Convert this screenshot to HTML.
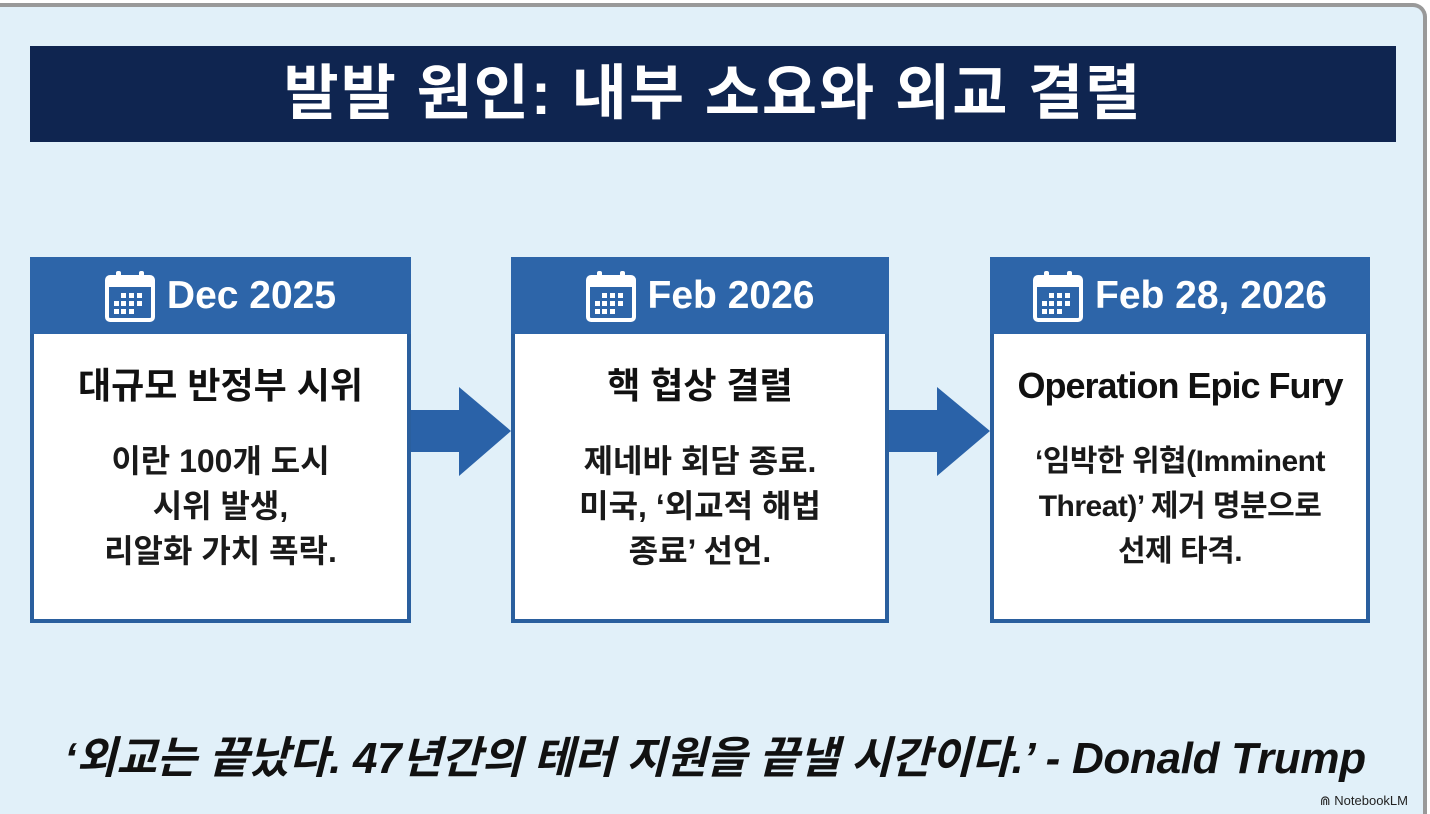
<!DOCTYPE html>
<html><head><meta charset="utf-8"><style>
*{margin:0;padding:0;box-sizing:border-box}
body{width:1430px;height:814px;overflow:hidden;background:#fff;font-family:"Liberation Sans","Noto Sans CJK KR",sans-serif;position:relative}
.frame{position:absolute;left:0;top:3px;width:1427px;height:811px;background:#e1f0f9;border-top:4px solid #999;border-right:4px solid #999;border-top-right-radius:14px}
.title{position:absolute;left:30px;top:46px;width:1366px;height:96px;background:#0f2550;color:#fff;font-size:60px;font-weight:bold;text-align:center;line-height:96px;letter-spacing:2px}
.card{position:absolute;top:257px;height:366px;background:#fff;border:4px solid #2a5f9e}
.hd{height:77px;background:#2d65a9;color:#fff;font-size:39px;font-weight:bold;display:flex;align-items:center;justify-content:center;gap:12px;margin:-4px -4px 0 -4px}
.bd{text-align:center;color:#111}
.h2{font-size:36px;font-weight:bold;margin-top:28px;line-height:48px}
.tx{font-size:32px;font-weight:bold;line-height:45px;margin-top:29px;color:#1a1a1a}
.arrow{position:absolute;top:387px}
.quote{position:absolute;left:0;width:1430px;top:722px;text-align:center;font-size:44px;font-weight:bold;font-style:italic;color:#111;letter-spacing:-0.3px}
.nb{position:absolute;right:22px;top:793px;font-size:13px;color:#222}
</style></head><body>
<div class="frame"></div>
<div class="title">발발 원인: 내부 소요와 외교 결렬</div>

<svg width="0" height="0" style="position:absolute"><defs><symbol id="cal" viewBox="0 0 50 52"><rect x="2" y="7" width="46" height="43" rx="3" fill="none" stroke="#fff" stroke-width="4"/><rect x="2" y="7" width="46" height="10" fill="#fff"/><rect x="11" y="1" width="5" height="11" rx="2" fill="#fff"/><rect x="34" y="1" width="5" height="11" rx="2" fill="#fff"/><g fill="#fff"><rect x="16" y="23" width="5" height="5"/><rect x="24" y="23" width="5" height="5"/><rect x="32" y="23" width="5" height="5"/><rect x="9" y="31" width="5" height="5"/><rect x="16" y="31" width="5" height="5"/><rect x="24" y="31" width="5" height="5"/><rect x="32" y="31" width="5" height="5"/><rect x="9" y="39" width="5" height="5"/><rect x="16" y="39" width="5" height="5"/><rect x="24" y="39" width="5" height="5"/></g></symbol></defs></svg>

<div class="card" style="left:30px;width:381px">
<div class="hd"><svg width="50" height="52"><use href="#cal"/></svg>Dec 2025</div>
<div class="bd"><div class="h2">대규모 반정부 시위</div><div class="tx">이란 100개 도시<br>시위 발생,<br>리알화 가치 폭락.</div></div>
</div>
<div class="card" style="left:511px;width:378px">
<div class="hd"><svg width="50" height="52"><use href="#cal"/></svg>Feb 2026</div>
<div class="bd"><div class="h2">핵 협상 결렬</div><div class="tx">제네바 회담 종료.<br>미국, ‘외교적 해법<br>종료’ 선언.</div></div>
</div>
<div class="card" style="left:990px;width:380px">
<div class="hd"><svg width="50" height="52"><use href="#cal"/></svg>Feb 28, 2026</div>
<div class="bd"><div class="h2" style="letter-spacing:-1px">Operation Epic Fury</div><div class="tx" style="font-size:30px;letter-spacing:-0.5px">‘임박한 위협(Imminent<br>Threat)’ 제거 명분으로<br>선제 타격.</div></div>
</div>

<svg class="arrow" style="left:411px" width="100" height="90"><polygon points="0,23 48,23 48,0 100,44 48,89 48,65 0,65" fill="#2a62a8"/></svg>
<svg class="arrow" style="left:889px" width="101" height="90"><polygon points="0,23 48,23 48,0 101,44 48,89 48,65 0,65" fill="#2a62a8"/></svg>

<div class="quote">‘외교는 끝났다. 47년간의 테러 지원을 끝낼 시간이다.’ - Donald Trump</div>
<div class="nb">⋒ NotebookLM</div>
</body></html>
